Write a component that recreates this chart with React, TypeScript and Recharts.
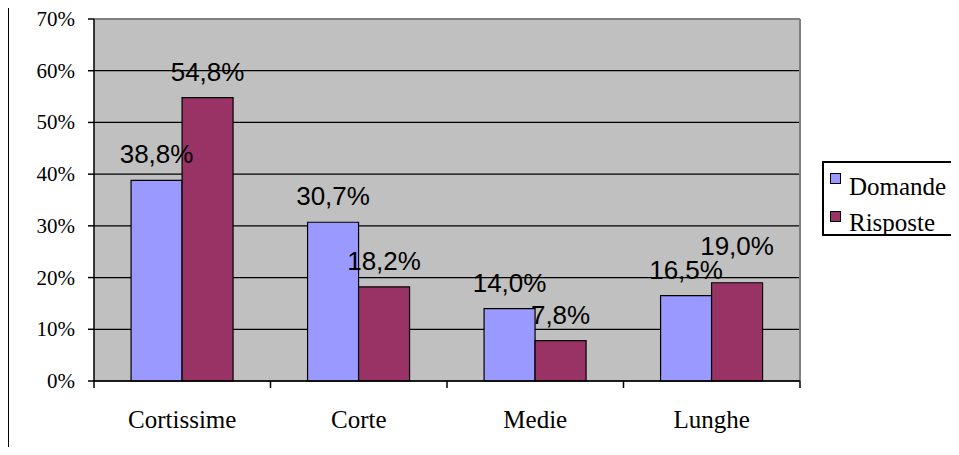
import React from 'react';
import { BarChart, Bar, XAxis, YAxis, CartesianGrid, LabelList } from 'recharts';

const categories = ['Cortissime', 'Corte', 'Medie', 'Lunghe'];
const domande = [38.8, 30.7, 14.0, 16.5];
const risposte = [54.8, 18.2, 7.8, 19.0];
const yTicks = [0, 10, 20, 30, 40, 50, 60, 70];

const series = [
  { key: 'Domande', values: domande, color: '#9999FF' },
  { key: 'Risposte', values: risposte, color: '#993366' },
];

const data = categories.map((name, i) => ({
  name,
  Domande: domande[i],
  Risposte: risposte[i],
}));

const SERIF = '"Liberation Serif", "Times New Roman", serif';
const SANS = '"Liberation Sans", Arial, sans-serif';

const formatLabel = (v: any) => `${Number(v).toFixed(1).replace('.', ',')}%`;

const CategoryTick = (props: any) => {
  const { x, y, payload, index } = props;
  const half = payload && payload.offset ? payload.offset : 88;
  return (
    <g>
      <line x1={x - half} x2={x - half} y1={y} y2={y + 7} stroke="#000" strokeWidth={1.5} />
      {index === categories.length - 1 && (
        <line x1={x + half} x2={x + half} y1={y} y2={y + 7} stroke="#000" strokeWidth={1.5} />
      )}
      <text x={x} y={y + 47} textAnchor="middle" fontFamily={SERIF} fontSize={25} fill="#000">
        {payload.value}
      </text>
    </g>
  );
};

const PercentTick = (props: any) => {
  const { x, y, payload } = props;
  return (
    <text x={x} y={y + 7} textAnchor="end" fontFamily={SERIF} fontSize={21} fill="#000">
      {`${payload.value}%`}
    </text>
  );
};

// value label above a bar; pushed up a bit when it would hit the neighbour's label
const makeLabel = (own: number[], other: number[]) => (props: any) => {
  const { x, y, width, index } = props;
  const close = Math.abs(own[index] - other[index]) < 3 && own[index] > other[index];
  return (
    <text
      x={x + width / 2}
      y={y - (close ? 28 : 17)}
      textAnchor="middle"
      fontFamily={SANS}
      fontSize={26}
      fill="#000"
    >
      {formatLabel(own[index])}
    </text>
  );
};

// plain html legend, boxed, sits to the right of the plot
const LegendBox = () => (
  <div
    style={{
      position: 'absolute',
      left: 822,
      top: 161,
      width: 150,
      height: 71,
      border: '2px solid #000',
      background: '#fff',
    }}
  >
    {series.map((s, i) => (
      <div
        key={s.key}
        style={{
          position: 'absolute',
          left: 6,
          top: i === 0 ? 10 : 48,
          display: 'flex',
          alignItems: 'flex-start',
        }}
      >
        <div
          style={{
            width: 9,
            height: 9,
            background: s.color,
            border: '1.5px solid #000',
          }}
        />
        <span
          style={{
            marginLeft: 8,
            marginTop: i === 0 ? 1 : -1,
            fontFamily: SERIF,
            fontSize: 25,
            lineHeight: '25px',
            color: '#000',
          }}
        >
          {s.key}
        </span>
      </div>
    ))}
  </div>
);

export default function App() {
  return (
    <div
      style={{
        position: 'relative',
        margin: -8,
        width: 959,
        height: 455,
        overflow: 'hidden',
        background: '#fff',
      }}
    >
      <BarChart
        width={959}
        height={455}
        data={data}
        margin={{ top: 19, right: 159, bottom: 0, left: 0 }}
        barCategoryGap="21%"
        barGap={0}
      >
        <CartesianGrid vertical={false} stroke="#000" strokeWidth={1.2} fill="#C0C0C0" fillOpacity={1} />
        <CartesianGrid
          horizontalCoordinatesGenerator={({ offset }: any) => [offset.top]}
          verticalCoordinatesGenerator={({ offset }: any) => [offset.left + offset.width]}
          stroke="#808080"
          strokeWidth={2}
        />
        <XAxis
          dataKey="name"
          height={74}
          tickLine={false}
          tickSize={0}
          tickMargin={0}
          axisLine={{ stroke: '#000', strokeWidth: 1.5 }}
          tick={<CategoryTick />}
          interval={0}
        />
        <YAxis
          width={94}
          domain={[0, 70]}
          ticks={yTicks}
          interval={0}
          tickSize={6}
          tickMargin={13}
          axisLine={{ stroke: '#000', strokeWidth: 1.5 }}
          tickLine={{ stroke: '#000', strokeWidth: 1.5 }}
          tick={<PercentTick />}
        />
        <Bar dataKey="Domande" fill={series[0].color} stroke="#000" strokeWidth={1.2} isAnimationActive={false}>
          <LabelList dataKey="Domande" content={makeLabel(domande, risposte)} />
        </Bar>
        <Bar dataKey="Risposte" fill={series[1].color} stroke="#000" strokeWidth={1.2} isAnimationActive={false}>
          <LabelList dataKey="Risposte" content={makeLabel(risposte, domande)} />
        </Bar>
      </BarChart>
      <LegendBox />
      <div style={{ position: 'absolute', left: 7, top: 0, width: 2, height: 455, background: '#000' }} />
    </div>
  );
}
